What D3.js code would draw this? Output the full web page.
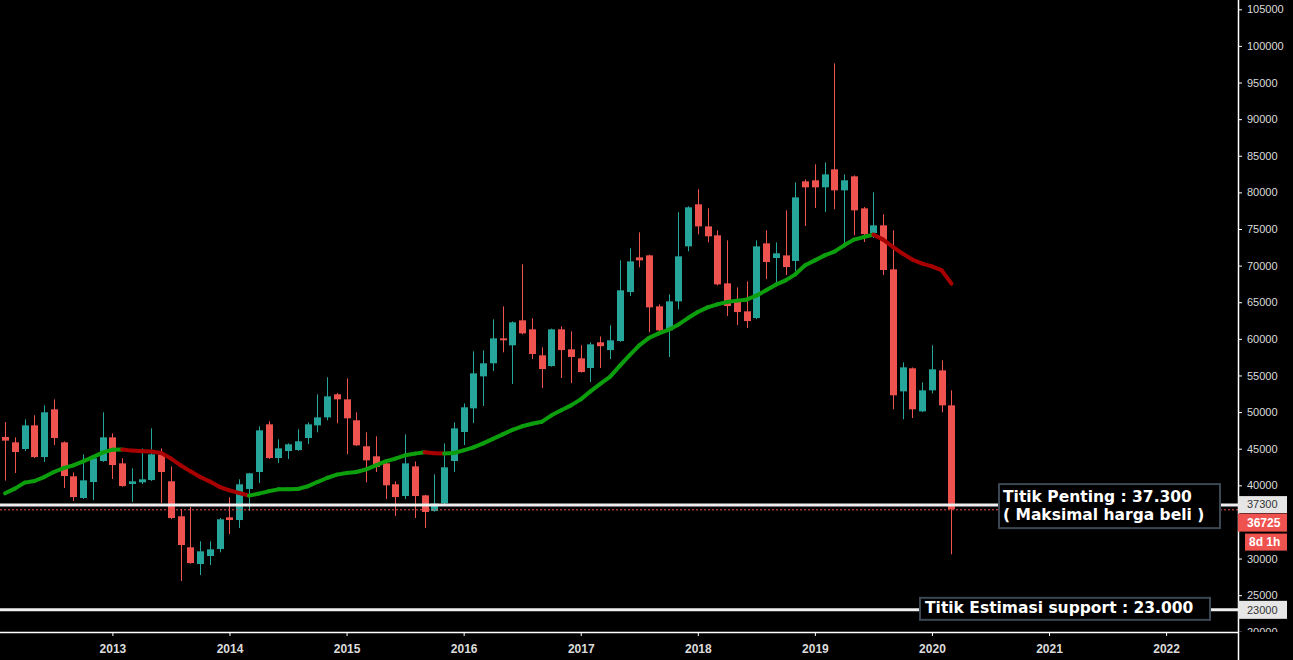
<!DOCTYPE html>
<html>
<head>
<meta charset="utf-8">
<script src="https://cdn.jsdelivr.net/npm/d3@7"></script>
<style>
html, body { margin: 0; padding: 0; background: #000; overflow: hidden; }
svg { display: block; }
</style>
</head>
<body>
<div id="chart"></div>
<script>
// monthly candles, Feb 2012 .. Mar 2020
const months = [
  "2012-02","2012-03","2012-04","2012-05","2012-06","2012-07","2012-08","2012-09","2012-10","2012-11","2012-12",
  "2013-01","2013-02","2013-03","2013-04","2013-05","2013-06","2013-07","2013-08","2013-09","2013-10","2013-11","2013-12",
  "2014-01","2014-02","2014-03","2014-04","2014-05","2014-06","2014-07","2014-08","2014-09","2014-10","2014-11","2014-12",
  "2015-01","2015-02","2015-03","2015-04","2015-05","2015-06","2015-07","2015-08","2015-09","2015-10","2015-11","2015-12",
  "2016-01","2016-02","2016-03","2016-04","2016-05","2016-06","2016-07","2016-08","2016-09","2016-10","2016-11","2016-12",
  "2017-01","2017-02","2017-03","2017-04","2017-05","2017-06","2017-07","2017-08","2017-09","2017-10","2017-11","2017-12",
  "2018-01","2018-02","2018-03","2018-04","2018-05","2018-06","2018-07","2018-08","2018-09","2018-10","2018-11","2018-12",
  "2019-01","2019-02","2019-03","2019-04","2019-05","2019-06","2019-07","2019-08","2019-09","2019-10","2019-11","2019-12",
  "2020-01","2020-02","2020-03"
];
const open = [
  46600,45870,44960,48190,43860,50380,45870,41230,38270,40450,43320,
  46550,43000,40180,40410,40720,44230,40550,35770,31535,29255,30350,31300,
  35630,35260,39500,41820,48330,43730,44680,44820,46460,48190,49280,52430,
  51740,48880,45330,43960,43000,40140,38540,42590,38630,36490,37540,43320,
  47280,50510,54880,56660,60070,59120,62530,61300,57750,56290,61300,58570,
  57340,56020,59530,58470,59700,66390,71130,71400,64440,61160,65120,72630,
  78370,75360,74135,67580,65030,63760,62840,73040,71040,71400,70630,81510,
  81650,80690,83150,80280,82190,77820,74450,75500,69490,52830,55980,50100,
  52970,55700,50920
];
const high = [
  48650,46550,49010,49560,50920,51740,46000,41770,44230,43960,49970,
  47100,43690,42320,45050,47780,45050,42590,36765,37040,32350,32350,35540,
  38360,40820,41700,48060,48740,46280,45740,47650,48600,52430,54750,52600,
  54610,49970,47240,46690,43100,40550,46960,43270,38700,41500,45730,48600,
  51190,58300,58430,62670,64440,62390,70180,62800,58840,61400,61710,61030,
  59120,59530,60340,61850,70720,72360,74540,71500,64710,66080,77280,78100,
  80420,77820,74820,73450,67030,67850,73450,74820,73180,77550,81370,81780,
  83830,84100,97620,82460,82320,78000,80010,77000,74820,56790,56100,54060,
  59120,57070,52970
];
const low = [
  40650,41680,44680,43730,43180,45500,39630,37860,38130,37990,43200,
  40860,39800,37720,40180,40600,37580,35400,26930,29300,27750,29120,30850,
  33350,34170,36490,40310,43600,43045,43590,44700,45640,47240,48870,48470,
  44230,45400,40410,41820,38130,35810,38130,35535,34170,36400,37400,41820,
  45500,48500,50830,55610,58160,53830,60620,57250,53290,56200,54650,53970,
  55400,54100,56020,57250,59600,65850,69770,60890,61000,57520,64030,71950,
  74270,73180,67300,63120,61890,61480,62700,68170,67490,68710,69260,75400,
  77860,77320,77690,72500,74135,73220,73770,68710,50380,49010,49190,50000,
  52560,49970,30580
];
const close = [
  46100,44550,48190,43860,49970,46460,41270,38400,40680,43690,46550,
  42770,39900,40550,40820,44230,41820,35535,31850,29390,30990,31260,35360,
  35260,40140,41640,47510,43730,45050,45600,46010,48330,49280,52150,51740,
  49150,45460,43410,42500,40000,38400,43000,38540,36355,37500,42460,47780,
  50650,55290,56660,60070,59800,62260,60750,57930,55880,61300,58470,57520,
  55470,59250,59000,59800,66630,70580,70720,64300,61160,65120,71270,77960,
  75360,74000,67440,64480,63660,62430,72630,70490,71680,69810,79320,80690,
  80690,82460,80280,81650,77550,74310,75500,69400,52290,56110,50380,52970,
  55840,50920,36725
];
// moving average
const ma = [
  38910,39550,40370,40590,41130,41820,42360,42730,43280,43860,44460,
  44870,44890,44740,44640,44620,44410,43650,42730,41910,41130,40510,39770,
  39320,38950,38590,38870,39180,39450,39460,39500,39860,40450,41000,41460,
  41680,41820,42180,42730,43280,43650,44100,44330,44510,44370,44330,44410,
  44780,45190,45730,46350,46960,47580,48060,48400,48670,49560,50240,50920,
  51740,52830,53860,54810,56320,57750,59120,60140,60750,61230,61940,62840,
  63660,64300,64710,65030,65220,65350,65900,66630,67400,67990,68810,70040,
  70720,71400,71910,72770,73550,73900,74230,73550,72540,71640,70820,70270,
  69900,69360,67540
];
const yearTicks = ["2013","2014","2015","2016","2017","2018","2019","2020","2021","2022"];
const priceTicks = [20000,25000,30000,35000,40000,45000,50000,55000,60000,65000,
                    70000,75000,80000,85000,90000,95000,100000,105000];
const keyLevel = 37300;
const supportLevel = 23000;
const lastPrice = 36725;
const keyText = ["Titik Penting : 37.300", "( Maksimal harga beli )"];
const supportText = "Titik Estimasi support : 23.000";
const countdown = "8d 1h";

const width = 1293, height = 660;
const plotRight = 1238, plotBottom = 632;
const upColor = "#26a69a", downColor = "#ef5350";

function monthIndex(s) {
  const [yy, mm] = s.split("-").map(Number);
  return (yy - 2012) * 12 + (mm - 2);
}

const x = d3.scaleLinear().domain([0, 119]).range([5.1, 1166.1]);
const y = d3.scaleLinear().domain([20000, 105000]).range([631.8, 9.3]);

const svg = d3.select("#chart").append("svg")
    .attr("width", width).attr("height", height)
    .style("background", "#000");

const defs = svg.append("defs");
defs.append("clipPath").attr("id", "plotClip")
  .append("rect").attr("x", 0).attr("y", 0).attr("width", plotRight).attr("height", plotBottom);
defs.append("clipPath").attr("id", "axisClip")
  .append("rect").attr("x", plotRight).attr("y", 0).attr("width", width - plotRight).attr("height", plotBottom);

const plot = svg.append("g").attr("clip-path", "url(#plotClip)");

const idx = months.map((m, i) => i);
const col = i => close[i] >= open[i] ? upColor : downColor;

// wicks
plot.append("g").selectAll("line").data(idx).join("line")
    .attr("x1", i => Math.round(x(monthIndex(months[i]))) + 0.5)
    .attr("x2", i => Math.round(x(monthIndex(months[i]))) + 0.5)
    .attr("y1", i => y(high[i]))
    .attr("y2", i => y(low[i]))
    .attr("stroke", col)
    .attr("stroke-width", 1);

// bodies
plot.append("g").selectAll("rect").data(idx).join("rect")
    .attr("x", i => Math.round(x(monthIndex(months[i]))) - 3)
    .attr("width", 7)
    .attr("y", i => y(Math.max(open[i], close[i])))
    .attr("height", i => Math.max(1, Math.abs(y(open[i]) - y(close[i]))))
    .attr("fill", col);

// moving average, green while rising, red while falling
const maLine = d3.line().x(d => x(monthIndex(d.m))).y(d => y(d.v));
const segs = [];
for (let i = 1; i < ma.length; i++) {
  segs.push({
    pts: [{m: months[i - 1], v: ma[i - 1]}, {m: months[i], v: ma[i]}],
    up: ma[i] >= ma[i - 1]
  });
}
plot.append("g").selectAll("path").data(segs).join("path")
    .attr("d", d => maLine(d.pts))
    .attr("fill", "none")
    .attr("stroke", d => d.up ? "#0c9e0c" : "#a80000")
    .attr("stroke-width", 4)
    .attr("stroke-linecap", "round");

// horizontal levels
plot.append("line")
    .attr("x1", 0).attr("x2", plotRight)
    .attr("y1", y(keyLevel)).attr("y2", y(keyLevel))
    .attr("stroke", "#eeeeee").attr("stroke-width", 3);
plot.append("line")
    .attr("x1", 0).attr("x2", plotRight)
    .attr("y1", y(lastPrice) + 0.5).attr("y2", y(lastPrice) + 0.5)
    .attr("stroke", downColor).attr("stroke-width", 1)
    .attr("stroke-dasharray", "2,2");
plot.append("line")
    .attr("x1", 0).attr("x2", plotRight)
    .attr("y1", y(supportLevel)).attr("y2", y(supportLevel))
    .attr("stroke", "#eeeeee").attr("stroke-width", 3);

// text boxes
const boxFont = "'DejaVu Sans', Verdana, sans-serif";
const kY = y(keyLevel);
svg.append("rect")
    .attr("x", 999).attr("y", kY - 21).attr("width", 221).attr("height", 44)
    .attr("fill", "#000").attr("stroke", "#3b4753").attr("stroke-width", 2);
svg.append("g").selectAll("text").data(keyText).join("text")
    .attr("x", 1003)
    .attr("y", (d, i) => kY - 3.5 + i * 18)
    .attr("fill", "#fff")
    .attr("font-family", boxFont)
    .attr("font-weight", "bold")
    .attr("font-size", 15.5)
    .text(d => d);

const sY = y(supportLevel);
svg.append("rect")
    .attr("x", 920).attr("y", sY - 12).attr("width", 290).attr("height", 22)
    .attr("fill", "#000").attr("stroke", "#3b4753").attr("stroke-width", 2);
svg.append("text")
    .attr("x", 925).attr("y", sY + 3)
    .attr("fill", "#fff")
    .attr("font-family", boxFont)
    .attr("font-weight", "bold")
    .attr("font-size", 15.5)
    .text(supportText);

// right price axis (labels hidden behind the tags are left out)
const axisFont = "'Liberation Sans', Arial, sans-serif";
const tagBands = [[y(keyLevel) - 9, y(keyLevel) + 46], [y(supportLevel) - 9, y(supportLevel) + 9]];
const shownTicks = priceTicks.filter(v => !tagBands.some(b => y(v) > b[0] && y(v) < b[1]));
const yAxisG = svg.append("g").attr("clip-path", "url(#axisClip)")
  .append("g").attr("transform", `translate(${plotRight},0)`)
  .call(d3.axisRight(y).tickValues(shownTicks).tickSize(4).tickPadding(5).tickFormat(d => d));
yAxisG.select(".domain").remove();
yAxisG.selectAll(".tick line").attr("stroke", "#fff");
yAxisG.selectAll(".tick text")
    .attr("fill", "#dcdcdc").attr("font-family", axisFont).attr("font-size", 11);

svg.append("line")
    .attr("x1", plotRight + 0.5).attr("x2", plotRight + 0.5)
    .attr("y1", 0).attr("y2", height)
    .attr("stroke", "#fff").attr("stroke-width", 1.5);

// bottom time axis
const xAxisG = svg.append("g").attr("transform", `translate(0,${plotBottom})`)
  .call(d3.axisBottom(x)
    .tickValues(yearTicks.map(t => monthIndex(t + "-01")))
    .tickFormat((d, i) => yearTicks[i])
    .tickSize(4).tickPadding(8));
xAxisG.select(".domain").remove();
xAxisG.selectAll(".tick line").attr("stroke", "#fff");
xAxisG.selectAll(".tick text")
    .attr("fill", "#dcdcdc").attr("font-family", axisFont)
    .attr("font-weight", "bold").attr("font-size", 12);

svg.append("line")
    .attr("x1", 0).attr("x2", plotRight)
    .attr("y1", plotBottom + 0.5).attr("y2", plotBottom + 0.5)
    .attr("stroke", "#fff").attr("stroke-width", 1.5);

// price labels on the axis
function axisTag(top, h, left, fill, color, bold, label) {
  svg.append("rect")
      .attr("x", left).attr("y", top).attr("width", 1287 - left).attr("height", h)
      .attr("fill", fill);
  svg.append("text")
      .attr("x", left + (left > plotRight ? 4 : 9)).attr("y", top + h / 2)
      .attr("dy", "0.35em")
      .attr("fill", color)
      .attr("font-family", axisFont)
      .attr("font-size", bold ? 12 : 11)
      .attr("font-weight", bold ? "bold" : "normal")
      .text(label);
}
axisTag(y(keyLevel) - 9, 17, plotRight, "#e6e6e6", "#333", false, keyLevel);
axisTag(y(keyLevel) + 8.5, 18, plotRight, downColor, "#fff", true, lastPrice);
axisTag(y(keyLevel) + 28.5, 17, 1245, downColor, "#fff", true, countdown);
axisTag(y(supportLevel) - 9, 18, plotRight, "#e6e6e6", "#333", false, supportLevel);
</script>
</body>
</html>
